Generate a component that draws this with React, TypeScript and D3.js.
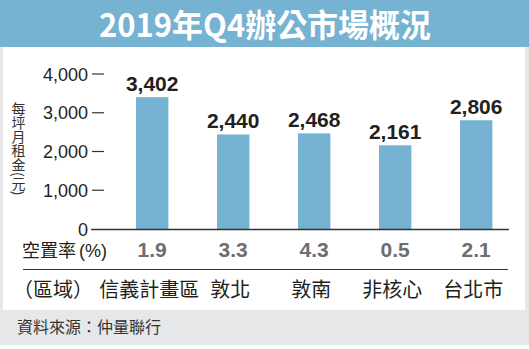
import React from "react";
import * as d3 from "d3";

const categories = ["信義計畫區", "敦北", "敦南", "非核心", "台北市"];
const rents = [3402, 2440, 2468, 2161, 2806];
const vacancy = ["1.9", "3.3", "4.3", "0.5", "2.1"];
const yTicks = [0, 1000, 2000, 3000, 4000];
const titleText = "2019年Q4辦公市場概況";
const yTitle = "每坪月租金(元)";
const sourceText = "資料來源：仲量聯行";

const W = 529;
const H = 349;
const BLUE = "#76b2d1";
const GRAY_BG = "#e6e7e8";
const DARK = "#231f20";
const CJK = "'Noto Sans CJK TC', 'Noto Sans', sans-serif";
const LAT = "'Liberation Sans', Arial, sans-serif";

export default function App() {
  const x = d3
    .scaleBand<string>()
    .domain(categories)
    .range([111.7, 516.7])
    .paddingInner(0.6)
    .paddingOuter(0.3);
  const y = d3.scaleLinear().domain([0, 4000]).range([229, 74]);
  const fmt = d3.format(",");

  return (
    <svg
      width={W}
      height={H}
      style={{ position: "absolute", left: 0, top: 0, display: "block" }}
    >
      <rect x={0} y={0} width={W} height={H} fill={GRAY_BG} />
      <rect x={0} y={345} width={W} height={4} fill="#ffffff" />
      <rect x={3} y={47} width={522} height={263} fill="#ffffff" />
      <rect x={0} y={0} width={W} height={47} fill={BLUE} />
      <text
        x={265}
        y={37}
        textAnchor="middle"
        fill="#ffffff"
        fontFamily={CJK}
        fontWeight={700}
        fontSize={32}
        textLength={332}
        lengthAdjust="spacingAndGlyphs"
      >
        {titleText}
      </text>

      {/* y axis title, vertical */}
      <text
        x={18.5}
        y={102}
        fill="#333"
        fontFamily={CJK}
        fontSize={14}
        style={{ writingMode: "vertical-rl" }}
      >
        {yTitle}
      </text>

      {/* y ticks */}
      {yTicks.map((t) => (
        <g key={t}>
          <text
            x={88}
            y={y(t) + 6.5}
            textAnchor="end"
            fill={DARK}
            fontFamily={LAT}
            fontSize={18}
          >
            {fmt(t)}
          </text>
          {t !== 0 && (
            <line x1={92} x2={104} y1={y(t)} y2={y(t)} stroke="#333" strokeWidth={1.2} />
          )}
        </g>
      ))}

      {/* bars */}
      {categories.map((c, i) => (
        <g key={c}>
          <rect
            x={x(c)}
            y={y(rents[i])}
            width={x.bandwidth()}
            height={y(0) - y(rents[i])}
            fill={BLUE}
          />
          <text
            x={(x(c) as number) + x.bandwidth() / 2}
            y={y(rents[i]) - 6.5}
            textAnchor="middle"
            fill={DARK}
            fontFamily={LAT}
            fontWeight={700}
            fontSize={21}
          >
            {fmt(rents[i])}
          </text>
        </g>
      ))}
      <line x1={91} x2={509} y1={229.5} y2={229.5} stroke="#333" strokeWidth={1.3} />

      {/* vacancy row */}
      <text x={22} y={257} fill={DARK} fontFamily={CJK} fontSize={18}>
        空置率
        <tspan fontFamily={LAT} dx={3}>(%)</tspan>
      </text>
      {categories.map((c, i) => (
        <text
          key={c}
          x={(x(c) as number) + x.bandwidth() / 2}
          y={257}
          textAnchor="middle"
          fill="#6d6e71"
          fontFamily={LAT}
          fontWeight={700}
          fontSize={21}
        >
          {vacancy[i]}
        </text>
      ))}
      <line x1={23} x2={508} y1={269.5} y2={269.5} stroke="#333" strokeWidth={1.2} />

      {/* region row */}
      <text x={13} y={297} fill={DARK} fontFamily={CJK} fontSize={20}>
        （區域）
      </text>
      {categories.map((c) => (
        <text
          key={c}
          x={(x(c) as number) + x.bandwidth() / 2 - 3}
          y={297}
          textAnchor="middle"
          fill={DARK}
          fontFamily={CJK}
          fontSize={20}
        >
          {c}
        </text>
      ))}

      {/* source */}
      <text x={17} y={333} fill="#333" fontFamily={CJK} fontSize={16}>
        {sourceText}
      </text>
    </svg>
  );
}
